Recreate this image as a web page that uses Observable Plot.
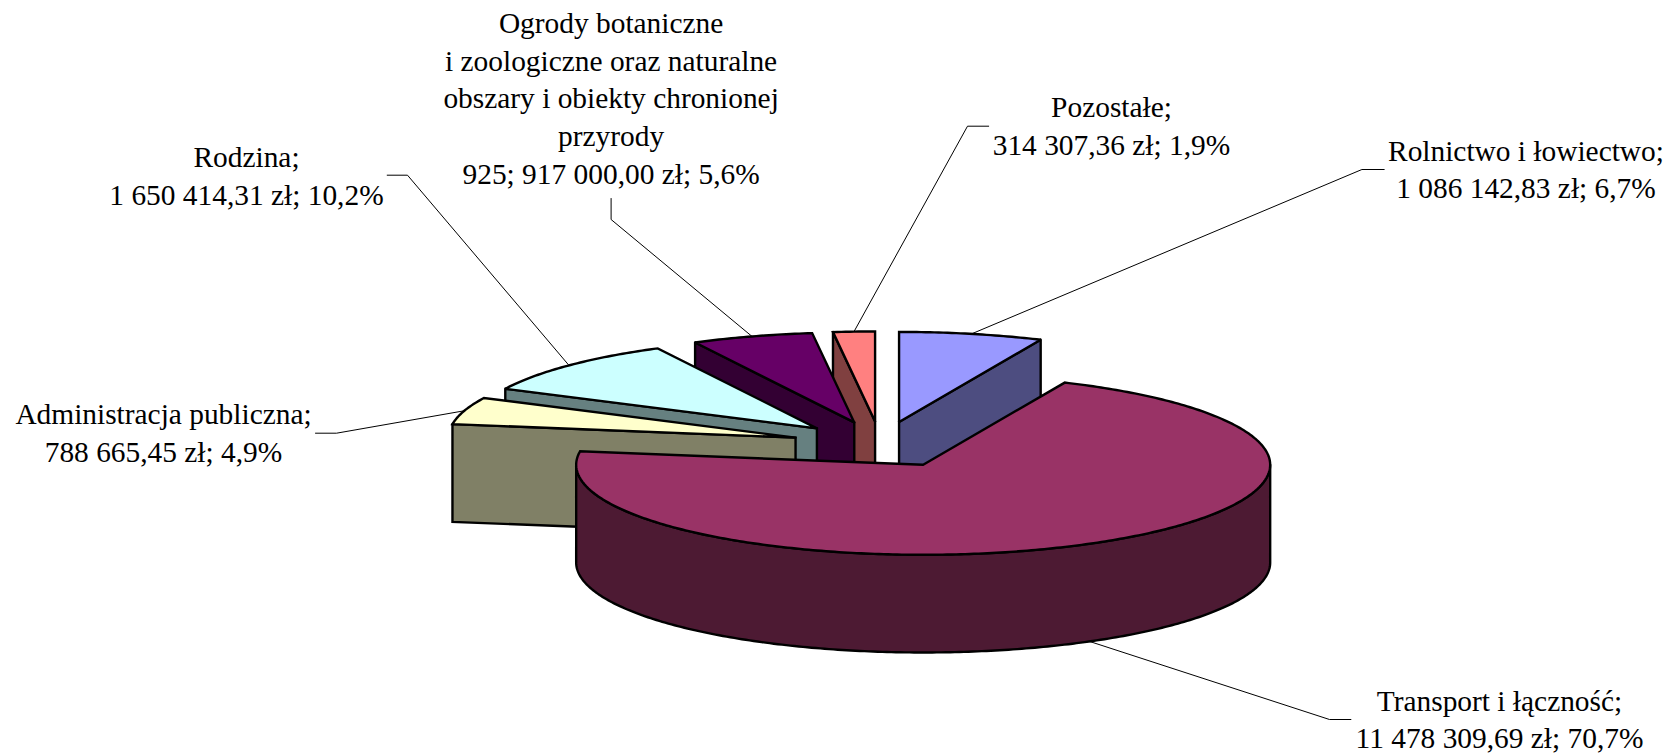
<!DOCTYPE html>
<html lang="pl">
<head>
<meta charset="utf-8">
<title>Wydatki</title>
<style>
html,body{margin:0;padding:0;background:#fff;overflow:hidden}
svg{display:block}
</style>
<script src="https://cdn.jsdelivr.net/npm/d3@7"></script>
<script src="https://cdn.jsdelivr.net/npm/@observablehq/plot@0.6"></script>
</head>
<body>
<div id="chart"></div>
<script>
// --- data ---
const categories = ["Rolnictwo i łowiectwo","Transport i łączność","Administracja publiczna","Rodzina","Ogrody botaniczne","Pozostałe"];
const values = [1086142.83,11478309.69,788665.45,1650414.31,917000.00,314307.36];
const labels = [
  "Rolnictwo i łowiectwo;\n1 086 142,83 zł; 6,7%",
  "Transport i łączność;\n11 478 309,69 zł; 70,7%",
  "Administracja publiczna;\n788 665,45 zł; 4,9%",
  "Rodzina;\n1 650 414,31 zł; 10,2%",
  "Ogrody botaniczne\ni zoologiczne oraz naturalne\nobszary i obiekty chronionej\nprzyrody\n925; 917 000,00 zł; 5,6%",
  "Pozostałe;\n314 307,36 zł; 1,9%"
];
const topColors  = ["#9999FF","#993366","#FFFFCC","#CCFFFF","#660066","#FF8080"];
const sideColors = ["#4D4D80","#4D1A33","#808066","#668080","#330033","#804040"];

// --- layout of the tilted, exploded pie ---
const W = 1670, H = 753;
const pieLayout = {cx:880, cy:444, rx:347, ry:90, depth:97.7, explode:89};
const drawOrder = [0,5,4,3,2,1];            // back to front
const labelPlacement = [
  {x:1525.5,y:166.8,leader:[[1361.4,169],[1383.7,169]]},
  {x:1499,  y:716.8,leader:[[1329,719],[1350.4,719]]},
  {x:163,   y:430.2,leader:[[336,432.7],[315,432.7]]},
  {x:246,   y:173.2,leader:[[407,174.7],[386.7,174.7]]},
  {x:610.6, y:95.8, leader:[[610.6,219],[610.6,198]]},
  {x:1111,  y:123.5,leader:[[967,125.7],[988.2,125.7]]}
];

// --- geometry derived from the values ---
const {cx,cy,rx,ry,depth,explode} = pieLayout;
const arcs = d3.pie().sort(null).startAngle(0).endAngle(2*Math.PI)(values);
const slices = arcs.map((a,i)=>{
  const mid=(a.startAngle+a.endAngle)/2;
  const ox=cx+explode*Math.sin(mid), oy=cy-explode*(ry/rx)*Math.cos(mid);
  const pt=(t,d=0)=>({x:ox+rx*Math.sin(t), y:oy-ry*Math.cos(t)+d});
  return {i,mid,ox,oy,pt,a0:a.startAngle,a1:a.endAngle};
});
const arcPts=(s,t0,t1,d=0)=>{
  const n=Math.max(2,Math.ceil(Math.abs(t1-t0)/(Math.PI/240)));
  return d3.range(n+1).map(k=>s.pt(t0+(t1-t0)*k/n,d));
};
const close=p=>[...p,p[0]];
const faces=[];
for(const i of drawOrder){
  const s=slices[i], apex={x:s.ox,y:s.oy}, apexB={x:s.ox,y:s.oy+depth};
  if(Math.sin(s.a0)<-1e-6)
    faces.push({fill:sideColors[i],pts:close([s.pt(s.a0),apex,apexB,s.pt(s.a0,depth)])});
  if(Math.sin(s.a1)>1e-6)
    faces.push({fill:sideColors[i],pts:close([s.pt(s.a1),apex,apexB,s.pt(s.a1,depth)])});
  const w0=Math.max(s.a0,Math.PI/2), w1=Math.min(s.a1,3*Math.PI/2);
  if(w1>w0)
    faces.push({fill:sideColors[i],pts:close([...arcPts(s,w0,w1),...arcPts(s,w1,w0,depth)])});
  faces.push({fill:topColors[i],pts:close([apex,...arcPts(s,s.a0,s.a1)])});
}
const leaders=slices.flatMap(s=>{
  const wallHit=Math.cos(s.mid)<0;
  const start=s.pt(s.mid,wallHit?depth:0);
  return [start,...labelPlacement[s.i].leader.map(([x,y])=>({x,y}))].map(p=>({...p,id:s.i}));
});
const labelRows=labels.map((text,i)=>({text,...labelPlacement[i]}));

const chart=Plot.plot({
  width:W,height:H,margin:0,
  x:{domain:[0,W],range:[0,W],axis:null},
  y:{domain:[0,H],range:[0,H],axis:null},
  style:{background:"#fff"},
  marks:[
    Plot.line(leaders,{x:"x",y:"y",z:"id",stroke:"#000",strokeWidth:1,curve:"linear"}),
    ...faces.map(f=>Plot.line(f.pts,{x:"x",y:"y",fill:f.fill,stroke:"#000",strokeWidth:2.4,curve:"linear",strokeLinejoin:"miter",strokeMiterlimit:3})),
    Plot.text(labelRows,{x:"x",y:"y",text:"text",fontFamily:"'Liberation Serif','Times New Roman',serif",fontSize:29.4,lineHeight:1.286,fill:"#000"})
  ]
});
document.getElementById("chart").append(chart);
</script>
</body>
</html>
